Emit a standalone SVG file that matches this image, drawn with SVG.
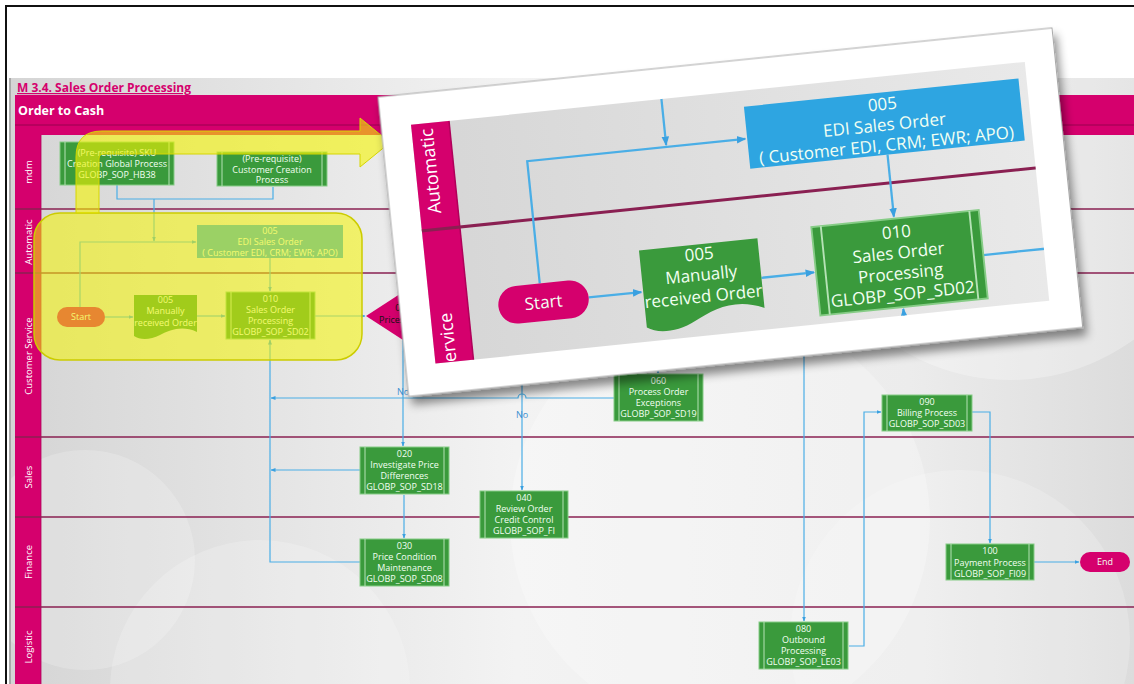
<svg xmlns="http://www.w3.org/2000/svg" xmlns:xlink="http://www.w3.org/1999/xlink" width="1134" height="684" viewBox="0 0 1134 684">
  <defs>
    <style>
      .t{font-family:"Open Sans","Noto Sans","Liberation Sans",sans-serif;font-size:9px;fill:#f2fff2;text-anchor:middle}
      .lane-t{font-family:"Open Sans","Noto Sans","Liberation Sans",sans-serif;font-size:9.5px;fill:#fff;text-anchor:middle}
      .proc{fill:#3a9a3c;stroke:#86cc86;stroke-width:1}
      .sub{stroke:#b5e2b5;stroke-width:1;fill:none}
      .edi{fill:#2ea5e1}
      .pill{fill:#d5006d}
      .lane-line{stroke:#8a2052;stroke-width:1.6}
      .conn{fill:none;stroke:#4aaee6;stroke-width:1.2}
      .no{font-family:"Open Sans","Noto Sans","Liberation Sans",sans-serif;font-size:9px;fill:#3a8fd0;text-anchor:middle}
    </style>
    <linearGradient id="sheetFill" x1="0" y1="0" x2="1" y2="0">
      <stop offset="0" stop-color="#d5d5d5"/>
      <stop offset="0.45" stop-color="#f3f3f3"/>
      <stop offset="0.8" stop-color="#ececec"/>
      <stop offset="1" stop-color="#dcdcdc"/>
    </linearGradient>
    <marker id="ah" viewBox="0 0 10 10" refX="9" refY="5" markerWidth="5" markerHeight="5" markerUnits="userSpaceOnUse" orient="auto">
      <path d="M0,1 L10,5 L0,9 z" fill="#3aa0e0"/>
    </marker>
    <filter id="cardShadow" x="-10%" y="-10%" width="125%" height="130%">
      <feDropShadow dx="3" dy="8" stdDeviation="5" flood-color="#000" flood-opacity="0.45"/>
    </filter>
    <clipPath id="insetClip">
      <rect x="30" y="31" width="617" height="240"/>
    </clipPath>
  </defs>

  <rect width="1134" height="684" fill="#fff"/>

  <!-- swimlane sheet -->
  <g id="diagram">
    <g id="sheet">
      <rect x="11" y="78" width="1123" height="606" fill="url(#sheetFill)"/>
      <circle cx="1010" cy="170" r="210" fill="#fff" fill-opacity="0.28"/>
      <circle cx="720" cy="520" r="210" fill="#fff" fill-opacity="0.25"/>
      <circle cx="960" cy="640" r="170" fill="#fff" fill-opacity="0.2"/>
      <circle cx="85" cy="560" r="110" fill="#fff" fill-opacity="0.2"/>
      <circle cx="260" cy="690" r="150" fill="#fff" fill-opacity="0.2"/>
      <text x="17" y="92" font-family="Open Sans, Noto Sans, Liberation Sans, sans-serif" font-size="12" font-weight="bold" fill="#d5006d" text-decoration="underline">M 3.4. Sales Order Processing</text>
      <rect x="15" y="95" width="1119" height="40" fill="#d5006d"/>
      <line x1="15" y1="125" x2="1134" y2="125" stroke="#9a0050" stroke-width="1"/>
      <text x="18" y="115" font-family="Open Sans, Noto Sans, Liberation Sans, sans-serif" font-size="12.5" font-weight="bold" fill="#fff">Order to Cash</text>
      <rect x="15" y="135" width="26" height="549" fill="#d5006d"/>
      <line x1="41" y1="135" x2="41" y2="684" stroke="#b0005a" stroke-width="0.8"/>
      <line class="lane-line" x1="15" y1="209" x2="1134" y2="209"/>
      <line class="lane-line" x1="15" y1="273" x2="1134" y2="273"/>
      <line class="lane-line" x1="15" y1="437" x2="1134" y2="437"/>
      <line class="lane-line" x1="15" y1="517" x2="1134" y2="517"/>
      <line class="lane-line" x1="15" y1="607" x2="1134" y2="607"/>
      <text class="lane-t" transform="translate(32,172) rotate(-90)">mdm</text>
      <text class="lane-t" transform="translate(32,242) rotate(-90)">Automatic</text>
      <text class="lane-t" transform="translate(32,356) rotate(-90)">Customer Service</text>
      <text class="lane-t" transform="translate(32,477) rotate(-90)">Sales</text>
      <text class="lane-t" transform="translate(32,562) rotate(-90)">Finance</text>
      <text class="lane-t" transform="translate(32,647) rotate(-90)">Logistic</text>
    </g>

    <g id="connectors">
      <path class="conn" d="M117,185 V199 H273 V187"/>
      <path class="conn" d="M154,199 V241" marker-end="url(#ah)"/>
      <path class="conn" d="M80,307 V242 H196" marker-end="url(#ah)"/>
      <path class="conn" d="M270,258 V291" marker-end="url(#ah)"/>
      <path class="conn" d="M105,317 H133" marker-end="url(#ah)"/>
      <path class="conn" d="M197,316 H225" marker-end="url(#ah)"/>
      <path class="conn" d="M315,316 H365" marker-end="url(#ah)"/>
      <path class="conn" d="M360,562 H270 V340" marker-end="url(#ah)"/>
      <path class="conn" d="M360,470 H271" marker-end="url(#ah)"/>
      <path class="conn" d="M614,398 H526 A4,4 0 0 0 518,398 H271" marker-end="url(#ah)"/>
      <path class="conn" d="M403,340 V446" marker-end="url(#ah)"/>
      <path class="conn" d="M522,330 V490" marker-end="url(#ah)"/>
      <path class="conn" d="M404,495 V538" marker-end="url(#ah)"/>
      <path class="conn" d="M658,340 V373" marker-end="url(#ah)"/>
      <path class="conn" d="M804,330 V621" marker-end="url(#ah)"/>
      <path class="conn" d="M849,646 H864 V412 H881" marker-end="url(#ah)"/>
      <path class="conn" d="M972,412 H990 V543" marker-end="url(#ah)"/>
      <path class="conn" d="M1034,562 H1079" marker-end="url(#ah)"/>
      <text class="no" x="403" y="395">No</text>
      <text class="no" x="522" y="418">No</text>
    </g>

    <g id="n-sku">
      <rect class="proc" x="60" y="142" width="114" height="43"/>
      <path class="sub" d="M65,142V185M169,142V185"/>
      <text class="t" x="117" y="155.5">(Pre-requisite) SKU</text>
      <text class="t" x="117" y="166.5">Creation Global Process</text>
      <text class="t" x="117" y="177.5">GLOBP_SOP_HB38</text>
    </g>
    <g id="n-customer-creation">
      <rect class="proc" x="217" y="152" width="110" height="34"/>
      <path class="sub" d="M222,152V186M322,152V186"/>
      <text class="t" x="272" y="161.5">(Pre-requisite)</text>
      <text class="t" x="272" y="172.5">Customer Creation</text>
      <text class="t" x="272" y="183.3">Process</text>
    </g>
    <g id="n-edi">
      <rect class="edi" x="197" y="225" width="146" height="33"/>
      <text class="t" x="270" y="234.3">005</text>
      <text class="t" x="270" y="245.3">EDI Sales Order</text>
      <text class="t" x="270" y="256">( Customer EDI, CRM; EWR; APO)</text>
    </g>
    <g id="n-start">
      <rect class="pill" x="57" y="307" width="48" height="20" rx="10"/>
      <text class="t" x="81" y="320.3" fill="#fff">Start</text>
    </g>
    <g id="n-manual">
      <path d="M134,295 H197 V332 C182,325 170,330 160,335 C150,340 140,340 134,336 Z" fill="#3a9a3c"/>
      <text class="t" x="165.5" y="303.3">005</text>
      <text class="t" x="165.5" y="314.3">Manually</text>
      <text class="t" x="165.5" y="325.8">received Order</text>
    </g>
    <g id="n-010">
      <rect class="proc" x="226" y="292" width="89" height="47"/>
      <path class="sub" d="M231,292V339M310,292V339"/>
      <text class="t" x="270.5" y="302.3">010</text>
      <text class="t" x="270.5" y="313.3">Sales Order</text>
      <text class="t" x="270.5" y="324.3">Processing</text>
      <text class="t" x="270.5" y="335.3">GLOBP_SOP_SD02</text>
    </g>
    <g id="n-prices">
      <polygon points="366,316 403,292 440,316 403,340" fill="#d5006d"/>
      <text x="403" y="311" font-family="Open Sans, Noto Sans, Liberation Sans, sans-serif" font-size="9" fill="#111" text-anchor="middle">015</text>
      <text x="401" y="323" font-family="Open Sans, Noto Sans, Liberation Sans, sans-serif" font-size="9" fill="#111" text-anchor="middle">Prices OK?</text>
    </g>
    <g id="n-060">
      <rect class="proc" x="614" y="374" width="89" height="47"/>
      <path class="sub" d="M619,374V421M698,374V421"/>
      <text class="t" x="658.5" y="384.3">060</text>
      <text class="t" x="658.5" y="395.3">Process Order</text>
      <text class="t" x="658.5" y="406.3">Exceptions</text>
      <text class="t" x="658.5" y="417.3">GLOBP_SOP_SD19</text>
    </g>
    <g id="n-020">
      <rect class="proc" x="360" y="447" width="89" height="47"/>
      <path class="sub" d="M365,447V494M444,447V494"/>
      <text class="t" x="404.5" y="457.3">020</text>
      <text class="t" x="404.5" y="468.3">Investigate Price</text>
      <text class="t" x="404.5" y="479.3">Differences</text>
      <text class="t" x="404.5" y="490.3">GLOBP_SOP_SD18</text>
    </g>
    <g id="n-030">
      <rect class="proc" x="360" y="539" width="89" height="47"/>
      <path class="sub" d="M365,539V586M444,539V586"/>
      <text class="t" x="404.5" y="549.3">030</text>
      <text class="t" x="404.5" y="560.3">Price Condition</text>
      <text class="t" x="404.5" y="571.3">Maintenance</text>
      <text class="t" x="404.5" y="582.3">GLOBP_SOP_SD08</text>
    </g>
    <g id="n-040">
      <rect class="proc" x="480" y="491" width="88" height="47"/>
      <path class="sub" d="M485,491V538M563,491V538"/>
      <text class="t" x="524" y="501.3">040</text>
      <text class="t" x="524" y="512.3">Review Order</text>
      <text class="t" x="524" y="523.3">Credit Control</text>
      <text class="t" x="524" y="534.3">GLOBP_SOP_FI</text>
    </g>
    <g id="n-080">
      <rect class="proc" x="759" y="622" width="89" height="47"/>
      <path class="sub" d="M764,622V669M843,622V669"/>
      <text class="t" x="803.5" y="632.3">080</text>
      <text class="t" x="803.5" y="643.3">Outbound</text>
      <text class="t" x="803.5" y="654.3">Processing</text>
      <text class="t" x="803.5" y="665.3">GLOBP_SOP_LE03</text>
    </g>
    <g id="n-090">
      <rect class="proc" x="882" y="395" width="90" height="36"/>
      <path class="sub" d="M887,395V431M967,395V431"/>
      <text class="t" x="927" y="405">090</text>
      <text class="t" x="927" y="416">Billing Process</text>
      <text class="t" x="927" y="427">GLOBP_SOP_SD03</text>
    </g>
    <g id="n-100">
      <rect class="proc" x="946" y="544" width="88" height="36"/>
      <path class="sub" d="M951,544V580M1029,544V580"/>
      <text class="t" x="990" y="554.3">100</text>
      <text class="t" x="990" y="565.6">Payment Process</text>
      <text class="t" x="990" y="576.5">GLOBP_SOP_FI09</text>
    </g>
    <g id="n-end">
      <rect class="pill" x="1080" y="552" width="50" height="20" rx="10"/>
      <text class="t" x="1105" y="565.3" fill="#fff">End</text>
    </g>
  </g>

  <!-- page frame -->
  <path d="M6,684 V6 H1134" fill="none" stroke="#111" stroke-width="2"/>
  <line x1="10" y1="78" x2="10" y2="684" stroke="#555" stroke-width="1"/>

  <!-- highlight of the entry area -->
  <g id="highlight">
    <rect x="34" y="213" width="328" height="147" rx="26" fill="#f5f500" fill-opacity="0.55" stroke="#cccc00" stroke-width="1.5"/>
    <path d="M76,213 V157 Q76,131 102,131 H360 V118 L390,142.5 L360,167 V154 H104 Q99,154 99,159 V213 Z" fill="#f5f500" fill-opacity="0.6" stroke="#d6d600" stroke-width="1"/>
  </g>

  <!-- enlarged detail card -->
  <g id="detail-card" transform="translate(378,97) rotate(-5.85)">
    <rect width="677.5" height="301" fill="#fff" stroke="#a8a8a8" stroke-width="1" filter="url(#cardShadow)"/>
    <g clip-path="url(#insetClip)">
      <use href="#diagram" xlink:href="#diagram" transform="matrix(1.89,0,0,1.89,-9.3,-378.3)"/>
    </g>
  </g>
</svg>
